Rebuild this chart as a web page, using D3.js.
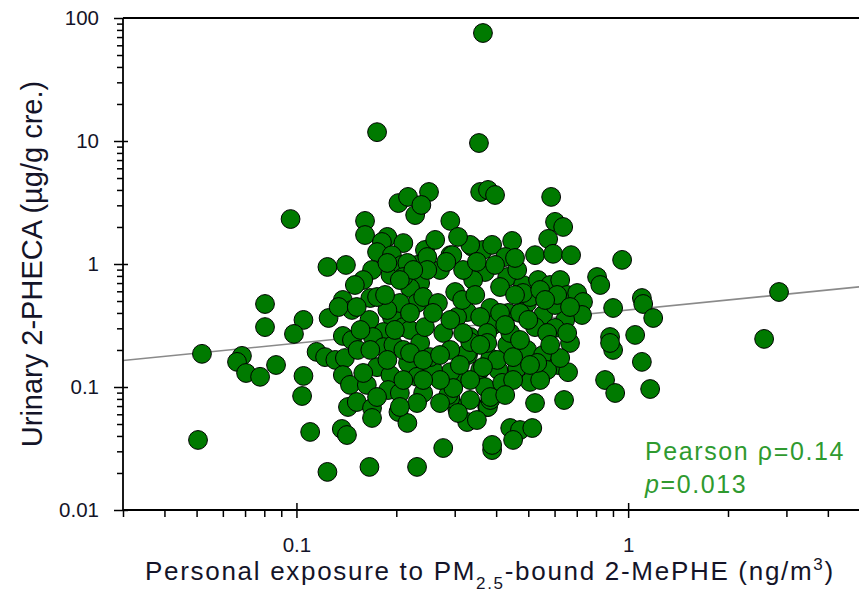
<!DOCTYPE html>
<html>
<head>
<meta charset="utf-8">
<script src="https://cdn.jsdelivr.net/npm/d3@7"></script>
<style>
html,body{margin:0;padding:0;background:#fff;}
svg{display:block;}
text{font-family:"Liberation Sans",Arial,sans-serif;}
</style>
</head>
<body>
<svg id="chart" width="859" height="593"></svg>
<script>
// Personal exposure to PM2.5-bound 2-MePHE (ng/m3)
const exposure = [
0.365,0.175,0.355,0.096,0.203,0.217,0.228,0.251,0.238,0.291,
0.358,0.378,0.397,0.586,0.161,0.161,0.188,0.181,0.210,0.175,
0.194,0.124,0.141,0.169,0.192,0.208,0.231,0.244,0.159,0.150,
0.236,0.220,0.167,0.138,0.147,0.0804,0.0804,0.105,0.0983,0.125,
0.134,0.166,0.194,0.210,0.231,0.241,0.138,0.183,0.220,0.271,
0.291,0.339,0.365,0.389,0.248,0.216,0.0519,0.0685,0.0662,0.0705,
0.0777,0.0868,0.105,0.104,0.0505,0.110,0.137,0.142,0.124,0.166,
0.231,0.147,0.115,0.122,0.131,0.140,0.138,0.145,0.153,0.170,
0.183,0.196,0.175,0.163,0.192,0.217,0.210,0.236,0.189,0.205,
0.241,0.143,0.152,0.169,0.169,0.203,0.216,0.231,0.277,0.305,
0.291,0.327,0.329,0.376,0.602,0.637,0.574,0.447,0.524,0.594,
0.673,0.959,0.806,0.824,1.10,1.11,1.19,0.901,0.334,0.426,
0.295,0.370,0.432,0.482,0.535,0.582,0.624,0.655,0.702,0.731,
0.726,0.646,0.554,0.496,0.435,0.384,0.392,0.327,0.301,0.267,
0.244,0.277,0.341,0.411,0.506,0.602,0.524,0.602,0.882,1.05,
0.334,0.668,0.901,0.882,1.10,0.852,0.914,1.165,0.524,0.641,
0.411,0.378,0.441,0.472,0.514,0.450,0.389,0.287,0.311,0.291,
0.258,0.327,0.334,0.384,0.406,0.432,0.463,0.506,0.496,0.554,
0.615,0.659,0.570,0.358,0.370,0.417,0.297,2.85,2.57,0.624,
0.543,0.384,0.389,0.248,0.318,0.350,0.397,0.463,0.482,0.543,
0.611,0.668,0.472,0.411,0.358,0.305,0.258,0.318,0.376,0.441,
0.570,0.655,0.253,0.291,0.376,0.403,0.450,0.532,0.365,0.271,
0.334,0.450,0.384,0.334,0.271,0.307,0.350,0.167,0.188,0.220,
0.241,0.159,0.210,0.241,0.175,0.231,0.205,0.205,0.220,0.188,
0.152,0.175,0.210,0.225,0.188,
0.283,0.316,0.456,0.562,0.346,0.500,0.426,0.291,0.358,0.472,
0.582,0.311,0.506,0.426,0.271,0.198,0.156,0.185,0.205,0.262,
0.307,0.456
];
// Urinary 2-PHECA (µg/g cre.)
const urinary = [
75.5,11.8,9.63,2.32,3.13,3.51,2.50,3.85,3.02,2.24,
3.85,4.00,3.64,3.51,2.24,1.72,1.66,1.51,1.48,1.25,
1.18,0.946,0.982,0.894,0.814,0.982,0.982,1.30,0.741,0.675,
0.701,0.638,0.529,0.510,0.423,0.473,0.307,0.351,0.270,0.364,
0.447,0.351,0.371,0.307,0.482,0.539,0.260,0.280,0.291,0.894,
1.18,1.375,1.30,1.43,1.14,1.02,0.186,0.179,0.160,0.130,
0.121,0.151,0.123,0.0845,0.0371,0.0431,0.0456,0.0407,0.0204,0.0224,
0.0224,0.241,0.193,0.175,0.166,0.172,0.125,0.104,0.200,0.255,
0.211,0.220,0.145,0.104,0.125,0.157,0.200,0.228,0.0945,0.0894,
0.0894,0.0688,0.0755,0.0675,0.0560,0.0626,0.0510,0.121,0.0319,0.0675,
0.0814,0.0519,0.182,0.0688,2.20,2.00,1.60,1.54,1.18,1.21,
1.18,1.08,0.784,0.675,0.529,0.473,0.364,0.439,1.43,1.14,
1.18,0.861,0.784,0.675,0.741,0.675,0.741,0.560,0.581,0.491,
0.385,0.351,0.385,0.482,0.400,0.439,0.319,0.407,0.592,0.482,
0.307,0.275,0.741,0.650,0.539,0.464,0.307,0.302,0.255,0.265,
0.255,0.228,0.200,0.228,0.160,0.114,0.0894,0.0963,0.0741,0.0784,
0.0894,0.0688,0.0464,0.0447,0.0464,0.0371,0.0307,0.0861,0.125,0.132,
0.1375,0.189,0.232,0.172,0.1375,0.220,0.143,0.110,0.200,0.182,
0.151,0.132,0.1375,0.1375,0.100,0.108,0.0981,0.592,0.246,0.172,
0.114,0.0784,0.0338,0.894,0.894,1.04,0.982,0.894,0.581,0.615,
0.560,0.447,0.400,0.400,0.371,0.371,0.400,0.275,0.275,0.275,
0.275,0.275,0.175,0.200,0.228,0.166,0.175,0.157,0.145,0.114,
0.114,0.114,0.0829,0.0784,0.0741,0.0615,0.0539,0.200,0.166,0.189,
0.166,0.130,0.114,0.114,0.0829,0.0741,0.0688,0.482,0.400,0.423,
0.447,0.539,0.784,0.894,1.02,
1.04,0.510,0.560,0.510,0.560,0.351,0.319,0.351,0.220,0.241,
0.220,0.151,0.151,0.0861,0.182,0.291,0.291,0.560,0.741,1.57,
1.66,1.12
];
// Fitted regression line (log-log), end points
const fitX = [0.03, 5];
const fitY = [0.164, 0.653];

const xMajor = [0.1, 1];
const xMajorLabels = ["0.1", "1"];
const xMinor = [0.03,0.04,0.05,0.06,0.07,0.08,0.09,0.2,0.3,0.4,0.5,0.6,0.7,0.8,0.9,2,3,4];
const yMajor = [0.01, 0.1, 1, 10, 100];
const yMajorLabels = ["0.01", "0.1", "1", "10", "100"];
const yMinor = [];
[0.01,0.1,1,10].forEach(d => { for (let k = 2; k <= 9; k++) yMinor.push(+(d*k).toPrecision(3)); });

const annot1 = "Pearson ρ=0.14";
const annot2Italic = "p";
const annot2Rest = "=0.013";

(function draw() {
const svg = d3.select("#chart");
const mLeft = 123, mRight = 860, mTop = 18, mBottom = 510;

const x = d3.scaleLog().domain([0.03, 5]).range([mLeft, mRight]);
const y = d3.scaleLog().domain([0.01, 100]).range([mBottom, mTop]);

const labelColor = "#141428";

// regression line
svg.append("line")
  .attr("x1", x(fitX[0])).attr("y1", y(fitY[0]))
  .attr("x2", x(fitX[1])).attr("y2", y(fitY[1]))
  .attr("stroke", "#8a8a8a").attr("stroke-width", 1.6);

// points
const pts = exposure.map((v, i) => ({x: v, y: urinary[i]}));
svg.append("g").selectAll("circle").data(pts).join("circle")
  .attr("cx", d => x(d.x)).attr("cy", d => y(d.y))
  .attr("r", 9.4)
  .attr("fill", "#007a00")
  .attr("stroke", "#000").attr("stroke-width", 1);

// top frame line
svg.append("line").attr("x1", mLeft).attr("x2", mRight).attr("y1", mTop).attr("y2", mTop)
  .attr("stroke", "#000").attr("stroke-width", 1.8);

// Y axis
const gy = svg.append("g").attr("transform", `translate(${mLeft},0)`);
gy.call(d3.axisLeft(y).tickValues(yMajor).tickSize(9).tickPadding(15)
  .tickFormat((d, i) => yMajorLabels[i]));
gy.append("g").call(d3.axisRight(y).tickValues(yMajor.filter(v => v < 100)).tickSize(5).tickFormat(""));
gy.append("g").call(d3.axisLeft(y).tickValues(yMinor).tickSize(6).tickFormat(""));
gy.selectAll(".domain").remove();
gy.append("line").attr("x1", 0).attr("x2", 0).attr("y1", mTop).attr("y2", mBottom)
  .attr("stroke", "#000").attr("stroke-width", 1.8);

// X axis
const gx = svg.append("g").attr("transform", `translate(0,${mBottom})`);
gx.call(d3.axisBottom(x).tickValues(xMajor).tickSize(8).tickPadding(19)
  .tickFormat((d, i) => xMajorLabels[i]));
gx.append("g").call(d3.axisTop(x).tickValues(xMajor).tickSize(7).tickFormat(""));
gx.append("g").call(d3.axisBottom(x).tickValues(xMinor).tickSize(7).tickFormat(""));
gx.selectAll(".domain").remove();
gx.append("line").attr("x1", mLeft).attr("x2", mRight).attr("y1", 0).attr("y2", 0)
  .attr("stroke", "#000").attr("stroke-width", 1.8);

svg.selectAll(".tick line").attr("stroke", "#000").attr("stroke-width", 1.5);
svg.selectAll(".tick text")
  .attr("font-family", '"Liberation Sans", Arial, sans-serif')
  .attr("font-size", 20.5).attr("fill", labelColor);

// Y title
svg.append("text")
  .attr("transform", "translate(42,264) rotate(-90)")
  .attr("text-anchor", "middle")
  .attr("font-size", 29)
  .attr("fill", labelColor)
  .text("Urinary 2-PHECA (µg/g cre.)");

// X title
const xt = svg.append("text")
  .attr("x", 145).attr("y", 580)
  .attr("font-size", 26)
  .attr("letter-spacing", 1.7)
  .attr("fill", labelColor);
xt.append("tspan").text("Personal exposure to PM");
xt.append("tspan").attr("font-size", 17).attr("dy", 9).text("2.5");
xt.append("tspan").attr("dy", -9).text("-bound 2-MePHE (ng/m");
xt.append("tspan").attr("font-size", 17).attr("dy", -10).text("3");
xt.append("tspan").attr("dy", 10).text(")");

// annotation
const green = "#2f9a2f";
svg.append("text").attr("x", 645).attr("y", 460)
  .attr("font-size", 25).attr("letter-spacing", 1.6).attr("fill", green)
  .text(annot1);
const a2 = svg.append("text").attr("x", 645).attr("y", 493)
  .attr("font-size", 25).attr("letter-spacing", 1.6).attr("fill", green);
a2.append("tspan").attr("font-style", "italic").text(annot2Italic);
a2.append("tspan").text(annot2Rest);
})();
</script>
</body>
</html>
